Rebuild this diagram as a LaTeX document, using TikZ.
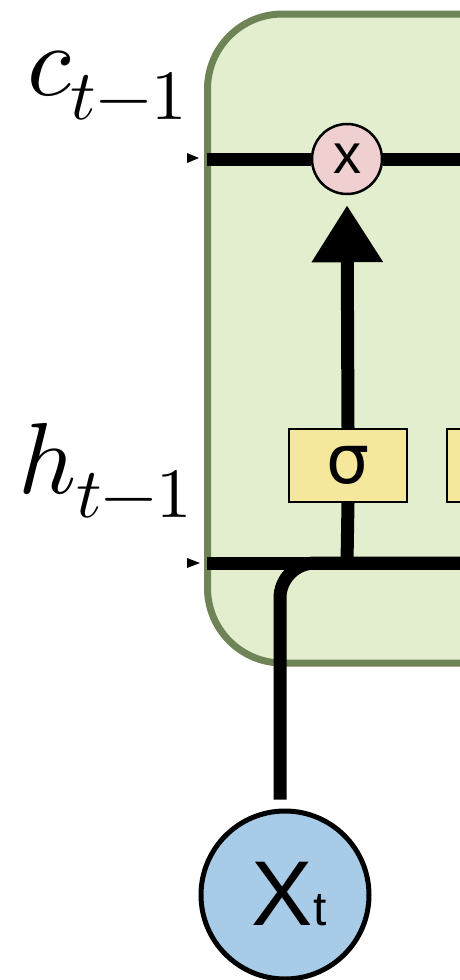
\documentclass[tikz,border=0pt]{standalone}
\usepackage{fontspec}
\setmainfont{Liberation Sans}
\newfontfamily\dejavu{DejaVu Sans}
\usepackage{unicode-math}
\setmathfont{Latin Modern Math}
\usetikzlibrary{arrows.meta}
\definecolor{cellfill}{HTML}{E3EECF}
\definecolor{celledge}{HTML}{6F8456}
\definecolor{multfill}{HTML}{EFCFCF}
\definecolor{gatefill}{HTML}{F5E89D}
\definecolor{inputfill}{HTML}{A8CCE8}
\tikzset{
  wire/.style={line width=13pt},
  gatebox/.style={draw=black, line width=2.2pt, fill=gatefill, minimum width=118pt, minimum height=73pt, inner sep=0pt},
  multnode/.style={circle, draw=black, line width=2.5pt, fill=multfill, minimum size=70pt, inner sep=0pt},
  inputnode/.style={circle, draw=black, line width=5pt, fill=inputfill, minimum size=168pt, inner sep=0pt},
  tinytip/.style={fill=black},
}
\begin{document}
\begin{tikzpicture}[x=1pt,y=-1pt]
\useasboundingbox (0,0) rectangle (460,980);
\clip (0,0) rectangle (460,980);
% cell
\draw[fill=cellfill, draw=celledge, line width=7pt, rounded corners=75pt] (207.5,14) rectangle (560,663);
% nodes
\node[multnode] (mult) at (347,159) {\fontsize{56}{56}\selectfont x};
\node[gatebox] (sig) at (348,465.5) {\dejavu\fontsize{68}{68}\selectfont σ};
\node[gatebox, minimum width=118pt] (sig2) at (506,465.5) {};
\node[inputnode] (xt) at (285,895) {};
\node[anchor=base] (xtlabel) at (289,925) {\fontsize{92}{92}\selectfont X\fontsize{48}{48}\selectfont t};
% coordinates
\coordinate (cin) at (207,159);
\coordinate (cout) at (460,159);
\coordinate (hin) at (207,563);
\coordinate (hout) at (460,563);
\coordinate (hjoin) at (347,563);
\coordinate (xtup) at (280,563);
% labels
\node[anchor=base west, inner sep=0pt] (clabel) at (27,95) {\fontsize{101}{101}\selectfont $c_{t-1}$};
\node[anchor=base west, inner sep=0pt] (hlabel) at (18,493) {\fontsize{101}{101}\selectfont $h_{t-1}$};
% small entry tips
\fill[tinytip] (187,153) -- (199,158) -- (187,163) -- cycle;
\fill[tinytip] (187,558) -- (200,563) -- (187,568) -- cycle;
% wires
\draw[wire] (cin) -- (mult.west);
\draw[wire] (mult.east) -- (cout);
\draw[wire] (hin) -- (hout);
\draw[wire] (sig.south) -- (hjoin);
\draw[wire, -{Triangle[length=57pt,width=68pt]}, shorten >=10pt] (sig.north) -- (mult.south);
\draw[wire, rounded corners=35pt, shorten <=9pt] (xt.north -| xtup) -- (xtup) -- (hout);
\end{tikzpicture}
\end{document}
